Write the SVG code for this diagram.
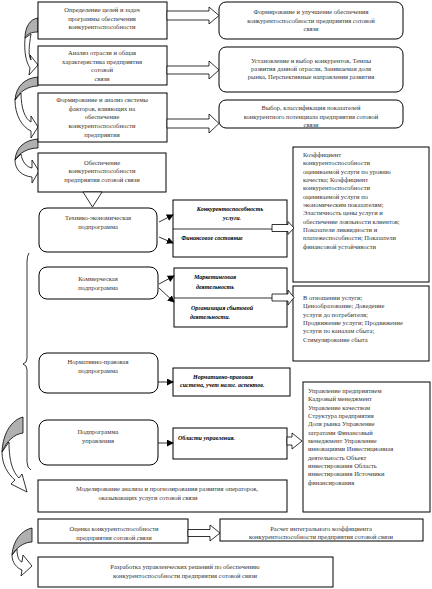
<svg xmlns="http://www.w3.org/2000/svg" width="432" height="589" viewBox="0 0 432 589">
<defs>
<style>
.b{fill:#fff;stroke:#000;stroke-width:1}
.a{fill:#fff;stroke:#000;stroke-width:0.8}
.g{fill:#b0b0b0;stroke:#000;stroke-width:0.8}
.ln{fill:none;stroke:#000;stroke-width:0.8}
.t{font-family:"Liberation Serif","Times New Roman",serif;font-size:6.5px;fill:#333}
.c{text-anchor:middle}
.bi{font-weight:bold;font-style:italic;fill:#000;font-size:6px}
</style>
<marker id="m" viewBox="0 0 8 8" refX="7" refY="4" markerWidth="7" markerHeight="7" markerUnits="userSpaceOnUse" orient="auto">
<path d="M0,0 L8,4 L0,8 Z" fill="#000"/>
</marker>
</defs>
<rect width="432" height="589" fill="#fff"/>

<g id="curved">
<path class="a" d="M25,38 C24,52 26,62 30,68 L29,75 L38,65 L30,55 L31,60 C28,55 29,46 31,34 Z"/>
<path class="g" d="M38,18 C30,19 25,27 25,38 C27,34 31,32 38,32 Z"/>
<path class="a" d="M15,100 C15,115 22,127 31,131 L31,138 L38,127 L31,116 L31,122 C25,119 21,108 21,93 Z"/>
<path class="g" d="M38,77 C25,78 16,86 15,100 C19,92 28,86 38,86 Z"/>
<path class="a" d="M15,160 C15,170 22,176 32,177 L32,183 L39,171 L32,160 L32,168 C26,167 22,161 21,154 Z"/>
<path class="g" d="M38,139 C25,140 16,147 15,160 C19,153 28,148 38,148 Z"/>
<path class="a" d="M2,452 C2,465 8,474 15,480 L11,484 L27,492 L22,474 L19,478 C13,472 9,462 9,442 Z"/>
<path class="g" d="M23,417 C12,420 3,432 2,452 C6,442 14,434 23,433 Z"/>
<path class="a" d="M12,555 C12,563 17,568 22,570 L21,576 L32,566 L23,555 L22,562 C19,561 17,557 17,549 Z"/>
<path class="g" d="M32,528 C22,530 13,540 12,555 C16,548 24,542 32,542 Z"/>
</g>

<g id="brace">
<path class="ln" d="M29,253 Q27,256 27,262 L27,358 Q27,363 23,364 Q27,365 27,370 L27,462 Q27,468 31,470"/>
</g>

<g id="n1"><rect class="b" x="38" y="2" width="129" height="37"/>
<text class="t c" x="102" y="12">Определение целей и задач</text>
<text class="t c" x="102" y="20.5">программы обеспечения</text>
<text class="t c" x="102" y="29">конкурентоспособности</text></g>

<g id="n2"><rect class="b" x="38" y="46" width="129" height="39"/>
<text class="t c" x="102" y="55">Анализ отрасли и общая</text>
<text class="t c" x="102" y="63.5">характеристика предприятия</text>
<text class="t c" x="102" y="72">сотовой</text>
<text class="t c" x="102" y="80.5">связи</text></g>

<g id="n3"><rect class="b" x="38" y="93" width="129" height="49"/>
<text class="t c" x="102" y="102">Формирование и анализ системы</text>
<text class="t c" x="102" y="110.5">факторов, влияющих на</text>
<text class="t c" x="102" y="119">обеспечение</text>
<text class="t c" x="102" y="128">конкурентоспособности</text>
<text class="t c" x="102" y="137">предприятия</text></g>

<g id="r1"><rect class="b" x="219" y="2" width="184" height="37" rx="7"/>
<text class="t c" x="311" y="14">Формирование  и улучшение обеспечения</text>
<text class="t c" x="311" y="22.5">конкурентоспособности предприятия сотовой</text>
<text class="t c" x="311" y="31">связи</text></g>

<g id="r2"><rect class="b" x="219" y="47" width="184" height="45" rx="7"/>
<text class="t c" x="311" y="63">Установление  и выбор конкурентов, Темпы</text>
<text class="t c" x="311" y="71">развития данной отрасли, Занимаемая доля</text>
<text class="t c" x="311" y="79">рынка, Перспективные направления развития</text></g>

<g id="r3"><rect class="b" x="219" y="100" width="184" height="28" rx="7"/>
<text class="t c" x="311" y="110">Выбор, классификация  показателей</text>
<text class="t c" x="311" y="118.5">конкурентного  потенциала предприятия сотовой</text>
<text class="t c" x="311" y="127">связи</text></g>

<g id="n4"><rect class="b" x="38" y="153" width="128" height="39"/>
<text class="t c" x="102" y="165">Обеспечение</text>
<text class="t c" x="102" y="173">конкурентоспособности</text>
<text class="t c" x="102" y="181.5">предприятия сотовой связи</text></g>

<g id="k1"><rect class="b" x="293" y="147" width="136" height="135"/>
<g class="t">
<text x="303" y="157">Коэффициент</text>
<text x="303" y="165.3">конкурентоспособности</text>
<text x="303" y="173.6">оцениваемой услуги по уровню</text>
<text x="303" y="182">качества; Коэффициент</text>
<text x="303" y="190.3">конкурентоспособности</text>
<text x="303" y="198.6">оцениваемой услуги по</text>
<text x="303" y="207">экономическим показателям;</text>
<text x="303" y="215.3">Эластичность цены услуги и</text>
<text x="303" y="223.6">обеспечение  лояльности клиентов;</text>
<text x="303" y="232">Показатели ликвидности и</text>
<text x="303" y="240.3">платежеспособности; Показатели</text>
<text x="303" y="248.6">финансовой устойчивости</text>
</g></g>

<g id="s1"><rect class="b" x="39" y="208" width="118" height="44" rx="8"/>
<text class="t c" x="98" y="220">Технико-экономическая</text>
<text class="t c" x="98" y="229">подпрограмма</text></g>

<g id="d1"><rect class="b" x="173" y="200" width="114" height="57"/>
<line class="ln" x1="173" y1="229" x2="287" y2="229"/>
<text class="t c bi" x="230" y="211">Конкурентоспособность</text>
<text class="t c bi" x="232" y="220">услуги.</text>
<text class="t c bi" x="212" y="240">Финансовое состояние</text></g>

<g id="s2"><rect class="b" x="39" y="267" width="119" height="32" rx="8"/>
<text class="t c" x="98" y="281">Коммерческая</text>
<text class="t c" x="98" y="290">подпрограмма</text></g>

<g id="d2"><rect class="b" x="174" y="268" width="113" height="59"/>
<line class="ln" x1="174" y1="298" x2="287" y2="298"/>
<text class="t c bi" x="215" y="279">Маркетинговая</text>
<text class="t c bi" x="215" y="289">деятельность</text>
<text class="t c bi" x="222" y="310">Организация сбытовой</text>
<text class="t c bi" x="210" y="319">деятельности.</text></g>

<g id="k2"><rect class="b" x="293" y="286" width="136" height="75"/>
<g class="t">
<text x="303" y="300">В отношении услуги;</text>
<text x="303" y="308.3">Ценообразование;  Доведение</text>
<text x="303" y="316.6">услуги до потребителя;</text>
<text x="303" y="325">Продвижение услуги; Продвижение</text>
<text x="303" y="333.3">услуги по каналам сбыта;</text>
<text x="303" y="341.6">Стимулирование сбыта</text>
</g></g>

<g id="s3"><rect class="b" x="39" y="353" width="119" height="40" rx="8"/>
<text class="t c" x="98" y="364">Нормативно-правовая</text>
<text class="t c" x="98" y="373">подпрограмма</text></g>

<g id="d3"><rect class="b" x="173" y="368" width="117" height="28"/>
<text class="t bi" x="193" y="379">Нормативно-правовая</text>
<text class="t bi" x="180" y="387">система, учет налог. аспектов.</text></g>

<g id="k3"><rect class="b" x="303" y="382" width="127" height="130"/>
<g class="t">
<text x="308" y="393">Управление предприятием</text>
<text x="308" y="401.3">Кадровый менеджмент</text>
<text x="308" y="409.6">Управление качеством</text>
<text x="308" y="418">Структура предприятия</text>
<text x="308" y="426.3">Доля рынка Управление</text>
<text x="308" y="434.6">затратами Финансовый</text>
<text x="308" y="443">менеджмент Управление</text>
<text x="308" y="451.3">инновациями Инвестиционная</text>
<text x="308" y="459.6">деятельность  Объект</text>
<text x="308" y="468">инвестирования  Область</text>
<text x="308" y="476.3">инвестирования  Источники</text>
<text x="308" y="484.6">финансирования</text>
</g></g>

<g id="s4"><rect class="b" x="39" y="420" width="119" height="45" rx="8"/>
<text class="t c" x="98" y="434">Подпрограмма</text>
<text class="t c" x="98" y="443">управления</text></g>

<g id="d4"><rect class="b" x="173" y="428" width="114" height="31"/>
<text class="t bi" x="178" y="440">Области управления.</text></g>

<g id="m1"><rect class="b" x="38" y="480" width="249" height="32"/>
<text class="t c" x="167" y="491">Моделирование анализа и прогнозирования  развития  операторов,</text>
<text class="t c" x="148" y="500">оказывающих услуги сотовой связи</text></g>

<g id="o1"><rect class="b" x="38" y="519" width="150" height="24"/>
<text class="t c" x="114" y="531">Оценка конкурентоспособности</text>
<text class="t c" x="114" y="539.5">предприятия сотовой связи</text></g>

<g id="p1"><rect class="b" x="220" y="519" width="203" height="22"/>
<text class="t c" x="321" y="531">Расчет интегрального коэффициента</text>
<text class="t c" x="321" y="539">конкурентоспособности предприятия сотовой связи</text></g>

<g id="z1"><rect class="b" x="38" y="557" width="295" height="30"/>
<text class="t c" x="185" y="569">Разработка управленческих решений по обеспечению</text>
<text class="t c" x="185" y="578">конкурентоспособности предприятия сотовой связи</text></g>

<g id="connectors">
<path class="a" d="M167,11 H209 V7 L219,15.5 L209,24 V20 H167 Z"/>
<path class="a" d="M167,66 H209 V61 L219,70 L209,79 V74 H167 Z"/>
<path class="a" d="M167,119 H209 V114 L219,123.5 L209,133 V128 H167 Z"/>
<path class="a" d="M83,192 L92.5,207 L102,192 Z"/>
<path class="a" d="M272,224.5 H288 V221.5 L294,228 L288,234.5 V231.5 H272 Z"/>
<path class="a" d="M272,294 H288 V290 L294,297.5 L288,305 V301 H272 Z"/>
<path class="a" d="M287,437 H292 V433 L302,441 L292,449 V445 H287 Z"/>
<path class="a" d="M188,529.5 H210 V525 L220,533 L210,541 V536.5 H188 Z"/>
<line class="ln" x1="159" y1="222" x2="173" y2="215" marker-end="url(#m)"/>
<line class="ln" x1="159" y1="237" x2="173" y2="243" marker-end="url(#m)"/>
<line class="ln" x1="159" y1="284" x2="174" y2="276" marker-end="url(#m)"/>
<line class="ln" x1="159" y1="288" x2="174" y2="302" marker-end="url(#m)"/>
<line class="ln" x1="158" y1="382" x2="173" y2="382" marker-end="url(#m)"/>
<line class="ln" x1="158" y1="443" x2="173" y2="443" marker-end="url(#m)"/>
</g>
</svg>
